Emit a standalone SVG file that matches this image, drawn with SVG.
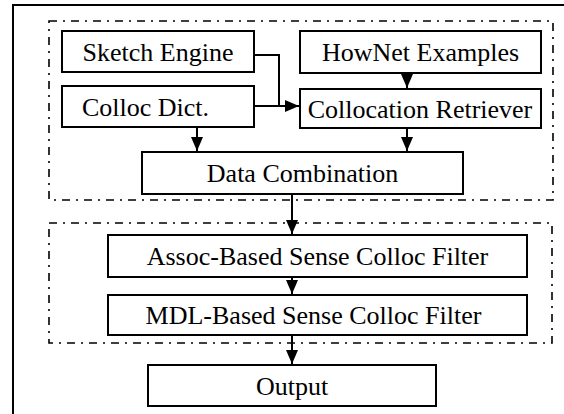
<svg xmlns="http://www.w3.org/2000/svg" width="564" height="414" viewBox="0 0 564 414">
<defs>
<marker id="arr" markerUnits="userSpaceOnUse" markerWidth="14" markerHeight="12" refX="14" refY="6" orient="auto">
<path d="M0,0 L14,6 L0,12 z" fill="#000"/>
</marker>
<style>
.box{fill:#fff;stroke:#000;stroke-width:2}
.grp{fill:none;stroke:#000;stroke-width:1.6;stroke-dasharray:8 6 2 6}
.t{font-family:"Liberation Serif","Times New Roman",serif;font-size:26px;fill:#000}
.m{text-anchor:middle}
.c{fill:none;stroke:#000;stroke-width:2}
</style>
</defs>
<rect width="564" height="414" fill="#fff"/>
<rect x="13" y="5" width="600" height="500" fill="none" stroke="#000" stroke-width="2"/>
<g id="groups">
<rect class="grp" x="49" y="21" width="504" height="179"/>
<rect class="grp" x="49" y="223" width="503" height="120"/>
</g>
<g id="sketch"><rect class="box" x="62" y="31" width="192" height="41"/><text class="t m" x="158" y="61">Sketch Engine</text></g>
<g id="colloc"><rect class="box" x="62" y="86" width="192" height="41"/><text class="t" x="82" y="116">Colloc Dict.</text></g>
<g id="hownet"><rect class="box" x="300" y="31" width="241" height="42"/><text class="t m" x="420.5" y="61">HowNet Examples</text></g>
<g id="retriever"><rect class="box" x="300" y="89" width="241" height="39"/><text class="t m" x="420" y="118">Collocation Retriever</text></g>
<g id="combination"><rect class="box" x="142" y="152" width="321" height="42"/><text class="t m" x="302.5" y="182">Data Combination</text></g>
<g id="assoc"><rect class="box" x="108" y="235" width="419" height="42"/><text class="t m" x="317.5" y="265">Assoc-Based Sense Colloc Filter</text></g>
<g id="mdl"><rect class="box" x="108" y="295" width="419" height="40"/><text class="t m" x="313.5" y="324">MDL-Based Sense Colloc Filter</text></g>
<g id="output"><rect class="box" x="148" y="365" width="288" height="41"/><text class="t m" x="292" y="395">Output</text></g>
<g id="connectors">
<polyline class="c" points="254,55 279,55 279,106"/>
<line class="c" x1="254" y1="106" x2="299" y2="106" marker-end="url(#arr)"/>
<line class="c" x1="197" y1="127" x2="197" y2="151" marker-end="url(#arr)"/>
<line class="c" x1="407" y1="73" x2="407" y2="88" marker-end="url(#arr)"/>
<line class="c" x1="407" y1="128" x2="407" y2="151" marker-end="url(#arr)"/>
<line class="c" x1="292" y1="194" x2="292" y2="234" marker-end="url(#arr)"/>
<line class="c" x1="292" y1="277" x2="292" y2="294" marker-end="url(#arr)"/>
<line class="c" x1="292" y1="335" x2="292" y2="364" marker-end="url(#arr)"/>
</g>
</svg>
